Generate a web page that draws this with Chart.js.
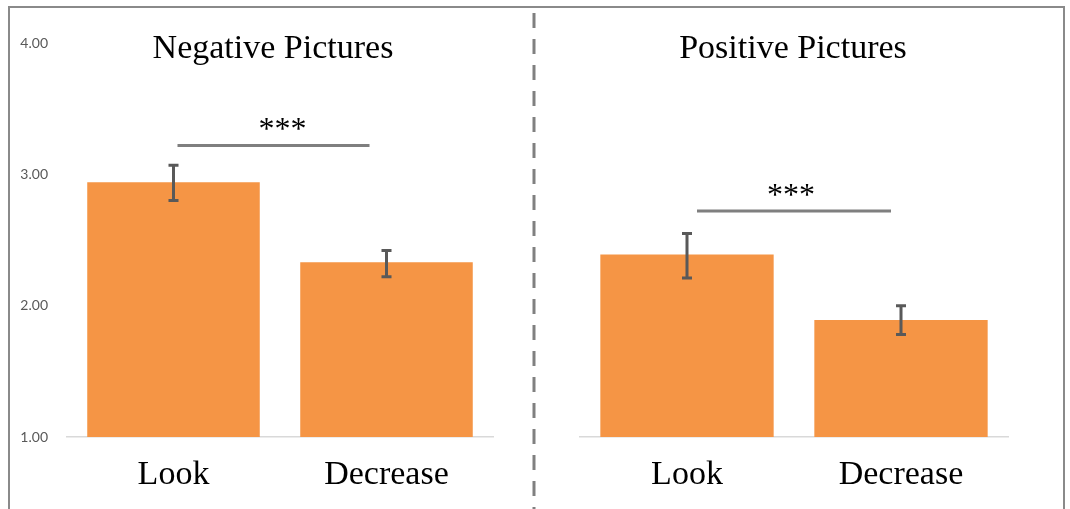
<!DOCTYPE html>
<html>
<head>
<meta charset="utf-8">
<script src="https://cdn.jsdelivr.net/npm/chart.js@4"></script>
<style>
  body { margin: 0; background: #fff; width: 1070px; height: 509px; overflow: hidden; position: relative; }
  #frame { position: absolute; left: 8px; top: 6px; width: 1053px; height: 520px; border: 2px solid #8a8a8a; border-bottom: none; }
  canvas { position: absolute; top: 0; }
  #leftChart { left: 0; }
  #rightChart { left: 540px; }
</style>
</head>
<body>
<div id="frame"></div>
<canvas id="leftChart" width="540" height="509"></canvas>
<canvas id="rightChart" width="530" height="509"></canvas>
<script>
const categories = ['Look', 'Decrease'];
const panelTitles = ['Negative Pictures', 'Positive Pictures'];

const negativeMeans = [2.94, 2.33];
const negativeErrLow = [2.80, 2.22];
const negativeErrHigh = [3.07, 2.42];

const positiveMeans = [2.39, 1.89];
const positiveErrLow = [2.21, 1.78];
const positiveErrHigh = [2.55, 2.00];

const yTicks = [1, 2, 3, 4];
const sigLevels = [3.22, 2.72];
const sigLabels = ['***', '***'];

const barColor = '#F59545';
const darkGrey = '#595959';

// draws title, error bars, significance bar and the dashed divider
const extrasPlugin = {
    id: 'extras',
    afterDatasetsDraw(chart, args, opts) {
        const ctx = chart.ctx;
        const x = chart.scales.x;
        const y = chart.scales.y;
        const area = chart.chartArea;
        ctx.save();

        // error bars
        ctx.strokeStyle = darkGrey;
        ctx.lineWidth = 3;
        for (let i = 0; i < categories.length; i++) {
            const px = x.getPixelForValue(i);
            const top = y.getPixelForValue(opts.errHigh[i]);
            const bottom = y.getPixelForValue(opts.errLow[i]);
            ctx.beginPath();
            ctx.moveTo(px, top);
            ctx.lineTo(px, bottom);
            ctx.moveTo(px - 5, top);
            ctx.lineTo(px + 5, top);
            ctx.moveTo(px - 5, bottom);
            ctx.lineTo(px + 5, bottom);
            ctx.stroke();
        }

        // significance bar
        const sy = y.getPixelForValue(opts.sigLevel);
        const x0 = x.getPixelForValue(0) + opts.sigStart;
        const x1 = x.getPixelForValue(1) - opts.sigEnd;
        ctx.strokeStyle = '#7f7f7f';
        ctx.lineWidth = 3;
        ctx.beginPath();
        ctx.moveTo(x0, sy);
        ctx.lineTo(x1, sy);
        ctx.stroke();

        ctx.fillStyle = '#000';
        ctx.textAlign = 'center';
        ctx.textBaseline = 'alphabetic';
        ctx.font = '32px "Liberation Serif", "Times New Roman", serif';
        ctx.fillText(opts.sigLabel, (x0 + x1) / 2 + opts.starsShift, sy - 6);

        // panel title
        ctx.font = '34px "Liberation Serif", "Times New Roman", serif';
        ctx.fillText(opts.title, (area.left + area.right) / 2 + opts.titleShift, 58);

        // dashed divider between the panels
        if (opts.divider) {
            ctx.strokeStyle = '#808080';
            ctx.lineWidth = 3;
            ctx.setLineDash([15, 11]);
            ctx.beginPath();
            ctx.moveTo(opts.divider, 13);
            ctx.lineTo(opts.divider, chart.height);
            ctx.stroke();
        }
        ctx.restore();
    }
};

function makePanel(canvasId, means, errLow, errHigh, panel, showY, padding, extra) {
    return new Chart(document.getElementById(canvasId), {
        type: 'bar',
        data: {
            labels: categories,
            datasets: [{
                data: means,
                backgroundColor: barColor,
                borderWidth: 0,
                categoryPercentage: 1,
                barPercentage: 0.81
            }]
        },
        plugins: [extrasPlugin],
        options: {
            responsive: false,
            animation: false,
            devicePixelRatio: 1,
            layout: { padding: padding },
            plugins: {
                legend: { display: false },
                tooltip: { enabled: false },
                extras: Object.assign({
                    title: panelTitles[panel],
                    errLow: errLow,
                    errHigh: errHigh,
                    sigLevel: sigLevels[panel],
                    sigLabel: sigLabels[panel]
                }, extra)
            },
            scales: {
                x: {
                    grid: { display: false, drawTicks: false },
                    border: { display: true, color: '#d9d9d9', width: 1.5 },
                    ticks: {
                        color: '#000',
                        padding: 18,
                        font: { family: '"Liberation Serif", "Times New Roman", serif', size: 34 }
                    },
                    afterFit: (scale) => { scale.height = 72; }
                },
                y: {
                    display: showY,
                    min: 1,
                    max: 4,
                    grid: { display: false, drawTicks: false },
                    border: { display: false },
                    afterBuildTicks: (scale) => { scale.ticks = yTicks.map(v => ({ value: v })); },
                    ticks: {
                        color: darkGrey,
                        padding: 19,
                        font: { family: 'Lato, "Open Sans", sans-serif', size: 14 },
                        callback: (v) => Number(v).toFixed(2)
                    },
                    afterFit: (scale) => { scale.width = showY ? 58 : 0; }
                }
            }
        }
    });
}

makePanel('leftChart', negativeMeans, negativeErrLow, negativeErrHigh, 0, true,
    { left: 9, right: 47, top: 43, bottom: 0 },
    { sigStart: 4, sigEnd: 17, starsShift: 9, titleShift: -7, divider: 534 });

makePanel('rightChart', positiveMeans, positiveErrLow, positiveErrHigh, 1, false,
    { left: 40, right: 62, top: 43, bottom: 0 },
    { sigStart: 10, sigEnd: 10, starsShift: -3, titleShift: -1, divider: 0 });
</script>
</body>
</html>
